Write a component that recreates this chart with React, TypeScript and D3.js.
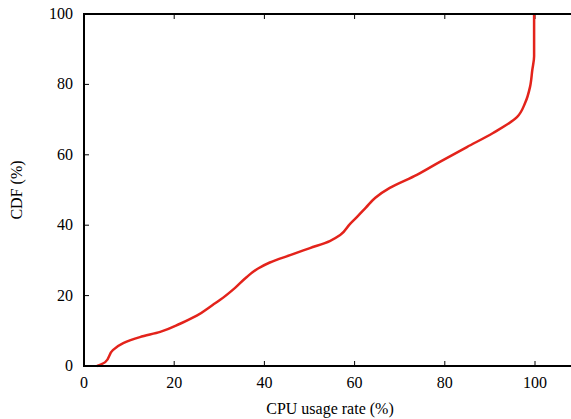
import React from "react";
import * as d3 from "d3";

// CPU usage rate (%) vs CDF (%)
const cpuUsage = [
  2.9, 4.7, 6.4, 8.7, 12.4, 16.9, 21.3, 25.0, 28.6, 30.2, 33.5, 36.1, 38.6, 41.2,
  45.7, 50.1, 54.5, 56.8, 59.0, 60.5, 62.5, 64.6, 67.8, 73.8, 78.9, 84.9, 90.7,
  96.0, 97.8, 98.9, 99.4, 99.8, 99.8,
];
const cdf = [
  0, 1.1, 4.5, 6.5, 8.2, 9.7, 12.0, 14.3, 17.4, 18.8, 22.2, 25.3, 27.7, 29.4,
  31.5, 33.5, 35.5, 37.2, 40.4, 42.3, 45.0, 47.8, 50.6, 54.3, 58.0, 62.2, 66.2,
  70.7, 74.7, 79.3, 84.1, 88.0, 100,
];
const xTicks = [0, 20, 40, 60, 80, 100];
const yTicks = [0, 20, 40, 60, 80, 100];

const W = 571;
const H = 419;
const margin = { top: 14, left: 84, bottom: 53 };

export default function App() {
  const x = d3.scaleLinear().domain([0, 100]).range([margin.left, 535]);
  const xMax = x.invert(576);
  x.domain([0, xMax]).range([margin.left, 576]);
  const y = d3.scaleLinear().domain([0, 100]).range([H - margin.bottom, margin.top]);

  const data = cpuUsage.map((v, i) => ({ x: v, y: cdf[i] }));
  const line = d3
    .line<{ x: number; y: number }>()
    .x((d) => x(d.x))
    .y((d) => y(d.y))
    .curve(d3.curveMonotoneY);

  const font = "'Liberation Serif', 'Times New Roman', serif";
  const x0 = x(0);
  const x1 = x(xMax);
  const y0 = y(0);
  const y1 = y(100);

  return (
    <svg
      width={W}
      height={H}
      style={{ position: "absolute", left: 0, top: 0, background: "#fff" }}
      fontFamily={font}
    >
      {/* ticks, inward, mirrored */}
      {xTicks.map((t) => (
        <g key={"x" + t}>
          <line x1={x(t)} x2={x(t)} y1={y0} y2={y0 - 5} stroke="#000" strokeWidth={1} />
          <line x1={x(t)} x2={x(t)} y1={y1} y2={y1 + 5} stroke="#000" strokeWidth={1} />
          <text x={x(t)} y={y0 + 22} fontSize={16} textAnchor="middle" fill="#000">
            {t}
          </text>
        </g>
      ))}
      {yTicks.map((t) => (
        <g key={"y" + t}>
          <line x1={x0} x2={x0 + 5} y1={y(t)} y2={y(t)} stroke="#000" strokeWidth={1} />
          <line x1={x1} x2={x1 - 5} y1={y(t)} y2={y(t)} stroke="#000" strokeWidth={1} />
          <text x={x0 - 11} y={y(t) + 5} fontSize={16} textAnchor="end" fill="#000">
            {t}
          </text>
        </g>
      ))}
      <path d={line(data) ?? ""} fill="none" stroke="#e3231b" strokeWidth={2.5} />
      <rect
        x={x0}
        y={y1}
        width={x1 - x0}
        height={y0 - y1}
        fill="none"
        stroke="#000"
        strokeWidth={2}
      />
      <text x={330} y={414} fontSize={16} textAnchor="middle" fill="#000">
        CPU usage rate (%)
      </text>
      <text
        transform={`translate(22,${(y0 + y1) / 2}) rotate(-90)`}
        fontSize={16}
        textAnchor="middle"
        fill="#000"
      >
        CDF (%)
      </text>
    </svg>
  );
}
